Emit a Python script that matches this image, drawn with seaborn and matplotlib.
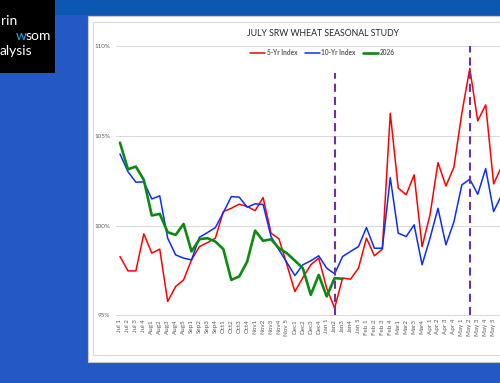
import numpy as np
import pandas as pd
import matplotlib
matplotlib.use('Agg')
import matplotlib.pyplot as plt
import seaborn as sns
from matplotlib.patches import Rectangle

# week labels along the x axis
weeks = ['Jul 1', 'Jul 2', 'Jul 3', 'Jul 4', 'Aug1', 'Aug2', 'Aug3', 'Aug4', 'Aug5',
         'Sep1', 'Sep2', 'Sep3', 'Sep4', 'Oct1', 'Oct2', 'Oct3', 'Oct4',
         'Nov1', 'Nov2', 'Nov3', 'Nov4', 'Nov 5', 'Dec1', 'Dec2', 'Dec3', 'Dec4',
         'Jan 1', 'Jan2', 'Jan3', 'Jan4', 'Jan 5', 'Feb 1', 'Feb 2', 'Feb 3', 'Feb 4',
         'Mar1', 'Mar2', 'Mar3', 'Mar4', 'Apr 1', 'Apr 2', 'Apr 3', 'Apr 4',
         'May 1', 'May 2', 'May 3', 'May 4', 'May 5']

# indexes run one week past the last visible label (cut off by the screenshot)
five_yr = [98.28, 97.48, 97.48, 99.54, 98.47, 98.69, 95.78, 96.61, 96.98, 98.09,
           98.83, 99.05, 99.3, 100.78, 100.96, 101.19, 101.06, 100.83, 101.56, 99.58,
           99.26, 97.82, 96.33, 97.1, 97.82, 98.19, 96.52, 95.41, 97.08, 97.02,
           97.63, 99.3, 98.32, 98.69, 106.24, 102.08, 101.71, 102.82, 98.83, 100.6,
           103.5, 102.2, 103.24, 106.24, 108.74, 105.82, 106.71, 102.32, 103.28]

ten_yr = [103.98, 103.0, 102.41, 102.43, 101.48, 101.65, 99.3, 98.37, 98.19, 98.09,
          99.35, 99.61, 99.89, 100.72, 101.61, 101.58, 101.02, 101.21, 101.17, 99.39,
          98.65, 97.94, 97.22, 97.82, 98.04, 98.32, 97.63, 97.32, 98.28, 98.56,
          98.83, 99.89, 98.74, 98.74, 102.66, 99.58, 99.39, 100.04, 97.82, 99.3,
          100.96, 98.93, 100.2, 102.26, 102.58, 101.74, 103.17, 100.78, 101.7]

y2026 = [104.61, 103.13, 103.28, 102.54, 100.56, 100.65, 99.63, 99.48, 100.09, 98.56,
         99.24, 99.3, 99.11, 98.69, 96.98, 97.17, 98.0, 99.72, 99.15, 99.24,
         98.74, 98.46, 98.05, 97.63, 96.15, 97.26, 96.06, 97.08, 97.04]

# dashed marker weeks and how high each line reaches
marker_weeks = ['Jan2', 'May 2']
marker_tops = [108.5, 110]

sns.set_theme(style='white')
plt.rcParams['font.family'] = ['Lato', 'DejaVu Sans']

W, H = 500, 383
fig = plt.figure(figsize=(W / 100, H / 100), dpi=100)
fig.patch.set_facecolor('#2458C5')


def rect(x0, y0, x1, y1, **kw):
    # rectangle given in pixel coords from the top-left corner
    r = Rectangle((x0 / W, 1 - y1 / H), (x1 - x0) / W, (y1 - y0) / H,
                  transform=fig.transFigure, **kw)
    fig.add_artist(r)


rect(0, 0, W, 15, facecolor='#0B57B1', edgecolor='none', zorder=-5)
rect(0, 0, 55, 73, facecolor='black', edgecolor='none', zorder=-4)
rect(88, 16, 530, 362, facecolor='white', edgecolor='#C8C8C8', lw=0.8, zorder=-3)
rect(92.7, 21.7, 530, 355, facecolor='white', edgecolor='#D9D9D9', lw=0.8, zorder=-2)

# logo text (cut off by the screenshot on the left)
fig.text(1 / W, 1 - 25 / H, 'rin', color='white', fontsize=10, va='baseline')
fig.text(16 / W, 1 - 40 / H, 'w', color='#2AA7E2', fontsize=10, va='baseline')
fig.text(25.5 / W, 1 - 40 / H, 'som', color='white', fontsize=10, va='baseline')
fig.text(0 / W, 1 - 55 / H, 'alysis', color='white', fontsize=10, va='baseline')

fig.text(323 / W, 1 - 33 / H, 'JULY SRW WHEAT SEASONAL STUDY', ha='center', va='center',
         fontsize=6.3, color='#262626')

ax = fig.add_axes([116 / W, (H - 315.5) / H, (530 - 116) / W, (315.5 - 45.7) / H])
ax.set_facecolor('white')

df = pd.DataFrame({'week': np.arange(len(five_yr)), 'five': five_yr, 'ten': ten_yr})
df26 = pd.DataFrame({'week': np.arange(len(y2026)), 'val': y2026})

sns.lineplot(data=df, x='week', y='five', color='#FF0000', lw=1.1, label='5-Yr Index',
             ax=ax, solid_joinstyle='round')
sns.lineplot(data=df, x='week', y='ten', color='#0A2EFF', lw=1.1, label='10-Yr Index',
             ax=ax, solid_joinstyle='round')
sns.lineplot(data=df26, x='week', y='val', color='#0B8A12', lw=1.9, label='2026',
             ax=ax, solid_joinstyle='round')

for wk, top in zip(marker_weeks, marker_tops):
    ax.vlines(weeks.index(wk), 95, top, color='#7030A0', lw=1.5,
              linestyles=(0, (3.9, 2.4)), zorder=4)

ax.set_ylim(95, 110)
ax.set_xlim(-0.5, -0.5 + (530 - 116) / 7.95)
ax.set_yticks([95, 100, 105, 110])
ax.set_yticklabels(['95%', '100%', '105%', '110%'])
ax.set_xticks(range(len(weeks)))
ax.set_xticklabels(weeks, rotation=90)
ax.tick_params(axis='both', length=0, labelsize=4.5, labelcolor='#595959')
ax.tick_params(axis='y', pad=4.3)
ax.tick_params(axis='x', pad=2.5)
ax.set_xlabel('')
ax.set_ylabel('')
ax.grid(axis='y', color='#D9D9D9', lw=0.75)
ax.grid(axis='x', visible=False)
for s in ax.spines.values():
    s.set_visible(False)

ax.legend(loc='center', bbox_to_anchor=(322.5 / W, 1 - 52.7 / H),
          bbox_transform=fig.transFigure, ncol=3, frameon=False,
          labelcolor='#595959', handlelength=2.3, handletextpad=0.2,
          columnspacing=1.2, prop={'weight': 'bold', 'size': 4.7})

fig.savefig('out.png', dpi=100)
